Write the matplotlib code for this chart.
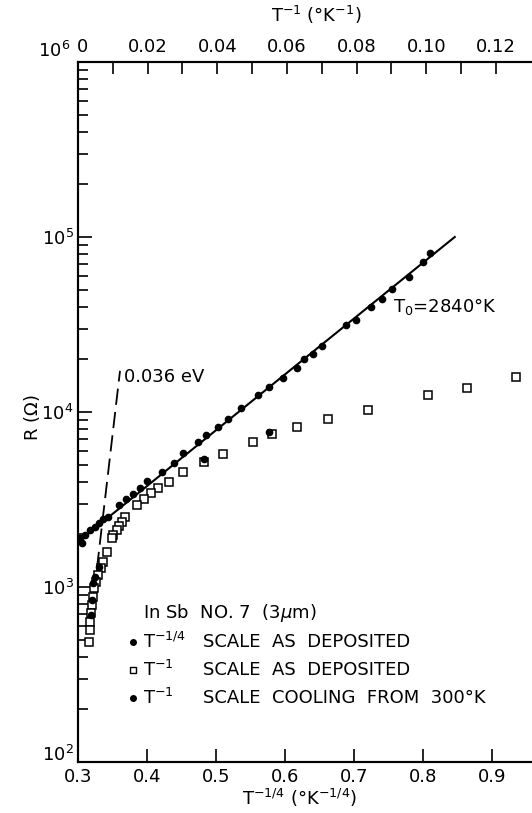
import matplotlib
matplotlib.use("Agg")
import matplotlib.pyplot as plt
from matplotlib.ticker import LogLocator, FixedLocator, NullLocator, FixedFormatter
from matplotlib.transforms import ScaledTranslation

# T^-1/4 scale as deposited (bottom axis, filled dots)
quarter_x = [0.303, 0.3053, 0.310, 0.3174, 0.325, 0.331, 0.3367, 0.343, 0.3599, 0.3691,
             0.3793, 0.3899, 0.4004, 0.4213, 0.4396, 0.4526, 0.4743, 0.4855, 0.5025, 0.517,
             0.5362, 0.5604, 0.5768, 0.5967, 0.617, 0.6275, 0.640, 0.6532, 0.688, 0.7029,
             0.7242, 0.7401, 0.7555, 0.7797, 0.7996, 0.810]
quarter_R = [1897, 1778, 1982, 2118, 2200, 2330, 2438, 2523, 2944, 3170,
             3396, 3664, 4036, 4560, 5093, 5808, 6714, 7396, 8185, 9078,
             10495, 12503, 13953, 15704, 17906, 19999, 21429, 23823, 31405, 33574,
             39628, 44055, 50234, 59293, 72277, 80724]

# T^-1 scale as deposited (top axis, open squares)
inv_x = [0.1258, 0.1116, 0.1006, 0.0832, 0.0717, 0.0628, 0.0556, 0.0503, 0.0415, 0.0362,
         0.0302, 0.0260, 0.0231, 0.0210, 0.0189, 0.0169, 0.0135, 0.0125, 0.0119, 0.0111,
         0.0101, 0.0097, 0.0082, 0.0073, 0.0065, 0.0058, 0.0052, 0.0046, 0.0042, 0.0039,
         0.0036, 0.0034, 0.0034, 0.0032]
inv_R = [15910, 13655, 12511, 10266, 9085, 8241, 7458, 6713, 5733, 5159,
         4523, 3981, 3679, 3444, 3184, 2943, 2502, 2362, 2232, 2117,
         1982, 1898, 1591, 1395, 1279, 1171, 1072, 983, 880, 789,
         708, 634, 568, 487]

# T^-1 scale cooling from 300K (top axis, filled dots)
cool_x = [0.0549, 0.0362, 0.0061, 0.0049, 0.0044, 0.0040, 0.0037]
cool_R = [7656, 5383, 1300, 1145, 1054, 843, 692]

# fitted lines
fit_x = [0.300, 0.846]
fit_R = [1810, 100000]
act_x = [0.00545, 0.01206]
act_R = [1284, 17180]

top_ticks = [0, 0.01, 0.02, 0.03, 0.04, 0.05, 0.06, 0.07, 0.08, 0.09, 0.10, 0.11, 0.12]
top_labels = ['0', '', '0.02', '', '0.04', '', '0.06', '', '0.08', '', '0.10', '', '0.12']
bottom_ticks = [0.3, 0.4, 0.5, 0.6, 0.7, 0.8, 0.9]
y_ticks = [1e2, 1e3, 1e4, 1e5, 1e6]

plt.rcParams['font.family'] = 'DejaVu Sans'
plt.rcParams['font.size'] = 13

fig = plt.figure(figsize=(5.32, 8.13), dpi=100)
ax = fig.add_axes([78/532, 1 - 762/813, 1 - 78/532, 700/813])
ax.set_yscale('log')
ax.set_xlim(0.3, 0.3 + 454/690)
ax.set_ylim(1e2, 1e6)

ax.plot(fit_x, fit_R, color='black', lw=1.5, zorder=2)
ax.plot(quarter_x, quarter_R, 'o', color='black', ms=4.5, zorder=3)

top = ax.twiny()
top.set_xlim(0, 454/3483)
top.plot(inv_x, inv_R, 's', mfc='white', mec='black', mew=1.1, ms=5.5, zorder=3)
top.plot(cool_x, cool_R, 'o', color='black', ms=4.5, zorder=4)
top.plot(act_x, act_R, color='black', lw=1.3, dashes=(9, 4))

for a in (ax, top):
    a.spines['right'].set_visible(False)
    for s in ('left', 'bottom', 'top'):
        a.spines[s].set_linewidth(1.5)

ax.set_xticks(bottom_ticks)
ax.set_xticklabels(['0.3', '0.4', '0.5', '0.6', '0.7', '0.8', '0.9'])
ax.tick_params(axis='x', which='major', direction='in', length=9.5, width=1.2, pad=4, top=False)
ax.yaxis.set_major_locator(FixedLocator(y_ticks))
ax.yaxis.set_minor_locator(LogLocator(base=10, subs=range(2, 10), numticks=20))
ax.yaxis.set_minor_formatter(plt.NullFormatter())
ax.tick_params(axis='y', which='major', direction='in', length=10, width=1.2, pad=3, right=False)
ax.tick_params(axis='y', which='minor', direction='in', length=7, width=1.2, right=False)
ax.xaxis.set_minor_locator(NullLocator())

# end labels of the R axis sit a little higher in the original
ylabels = ax.get_yticklabels()
ylabels[0].set_transform(ylabels[0].get_transform() + ScaledTranslation(0, 9/100, fig.dpi_scale_trans))
ylabels[-1].set_transform(ylabels[-1].get_transform() + ScaledTranslation(-4/100, 13/100, fig.dpi_scale_trans))

top.xaxis.set_major_locator(FixedLocator(top_ticks))
top.xaxis.set_major_formatter(FixedFormatter(top_labels))
top.xaxis.set_minor_locator(NullLocator())
top.tick_params(axis='x', direction='in', length=8.5, width=1.2, pad=4)
tlabels = top.get_xticklabels()
tlabels[0].set_transform(tlabels[0].get_transform() + ScaledTranslation(5/100, 0, fig.dpi_scale_trans))

# annotations
ax.text(0.3667, 15850, '0.036 eV', fontsize=13, va='center', ha='left')
ax.text(0.7565, 40000, r'T$_0$=2840°K', fontsize=13, va='center', ha='left')

leg_y = [707, 487, 336, 231]
ax.text(0.3937, leg_y[0], r'In Sb  NO. 7  (3$\mu$m)', fontsize=13, va='center', ha='left')
ax.plot([0.3801], [leg_y[1]], 'o', color='black', ms=4)
ax.plot([0.3801], [leg_y[2]], 's', mfc='white', mec='black', mew=1, ms=4.5)
ax.plot([0.3801], [leg_y[3]], 'o', color='black', ms=4)
ax.text(0.3937, leg_y[1], r'T$^{-1/4}$', fontsize=13, va='center', ha='left')
ax.text(0.3937, leg_y[2], r'T$^{-1}$', fontsize=13, va='center', ha='left')
ax.text(0.3937, leg_y[3], r'T$^{-1}$', fontsize=13, va='center', ha='left')
ax.text(0.4816, leg_y[1], 'SCALE  AS  DEPOSITED', fontsize=13, va='center', ha='left')
ax.text(0.4816, leg_y[2], 'SCALE  AS  DEPOSITED', fontsize=13, va='center', ha='left')
ax.text(0.4816, leg_y[3], 'SCALE  COOLING  FROM  300°K', fontsize=13, va='center', ha='left')

fig.text(31.7/532, 1 - 418/813, r'R ($\Omega$)', rotation=90, ha='center', va='center', fontsize=13)
fig.text(300/532, 1 - 798/813, r'T$^{-1/4}$ (°K$^{-1/4}$)', ha='center', va='center', fontsize=13)
fig.text(316.7/532, 1 - 15/813, r'T$^{-1}$ (°K$^{-1}$)', ha='center', va='center', fontsize=13)

fig.savefig('out.png', dpi=100, facecolor='white')
